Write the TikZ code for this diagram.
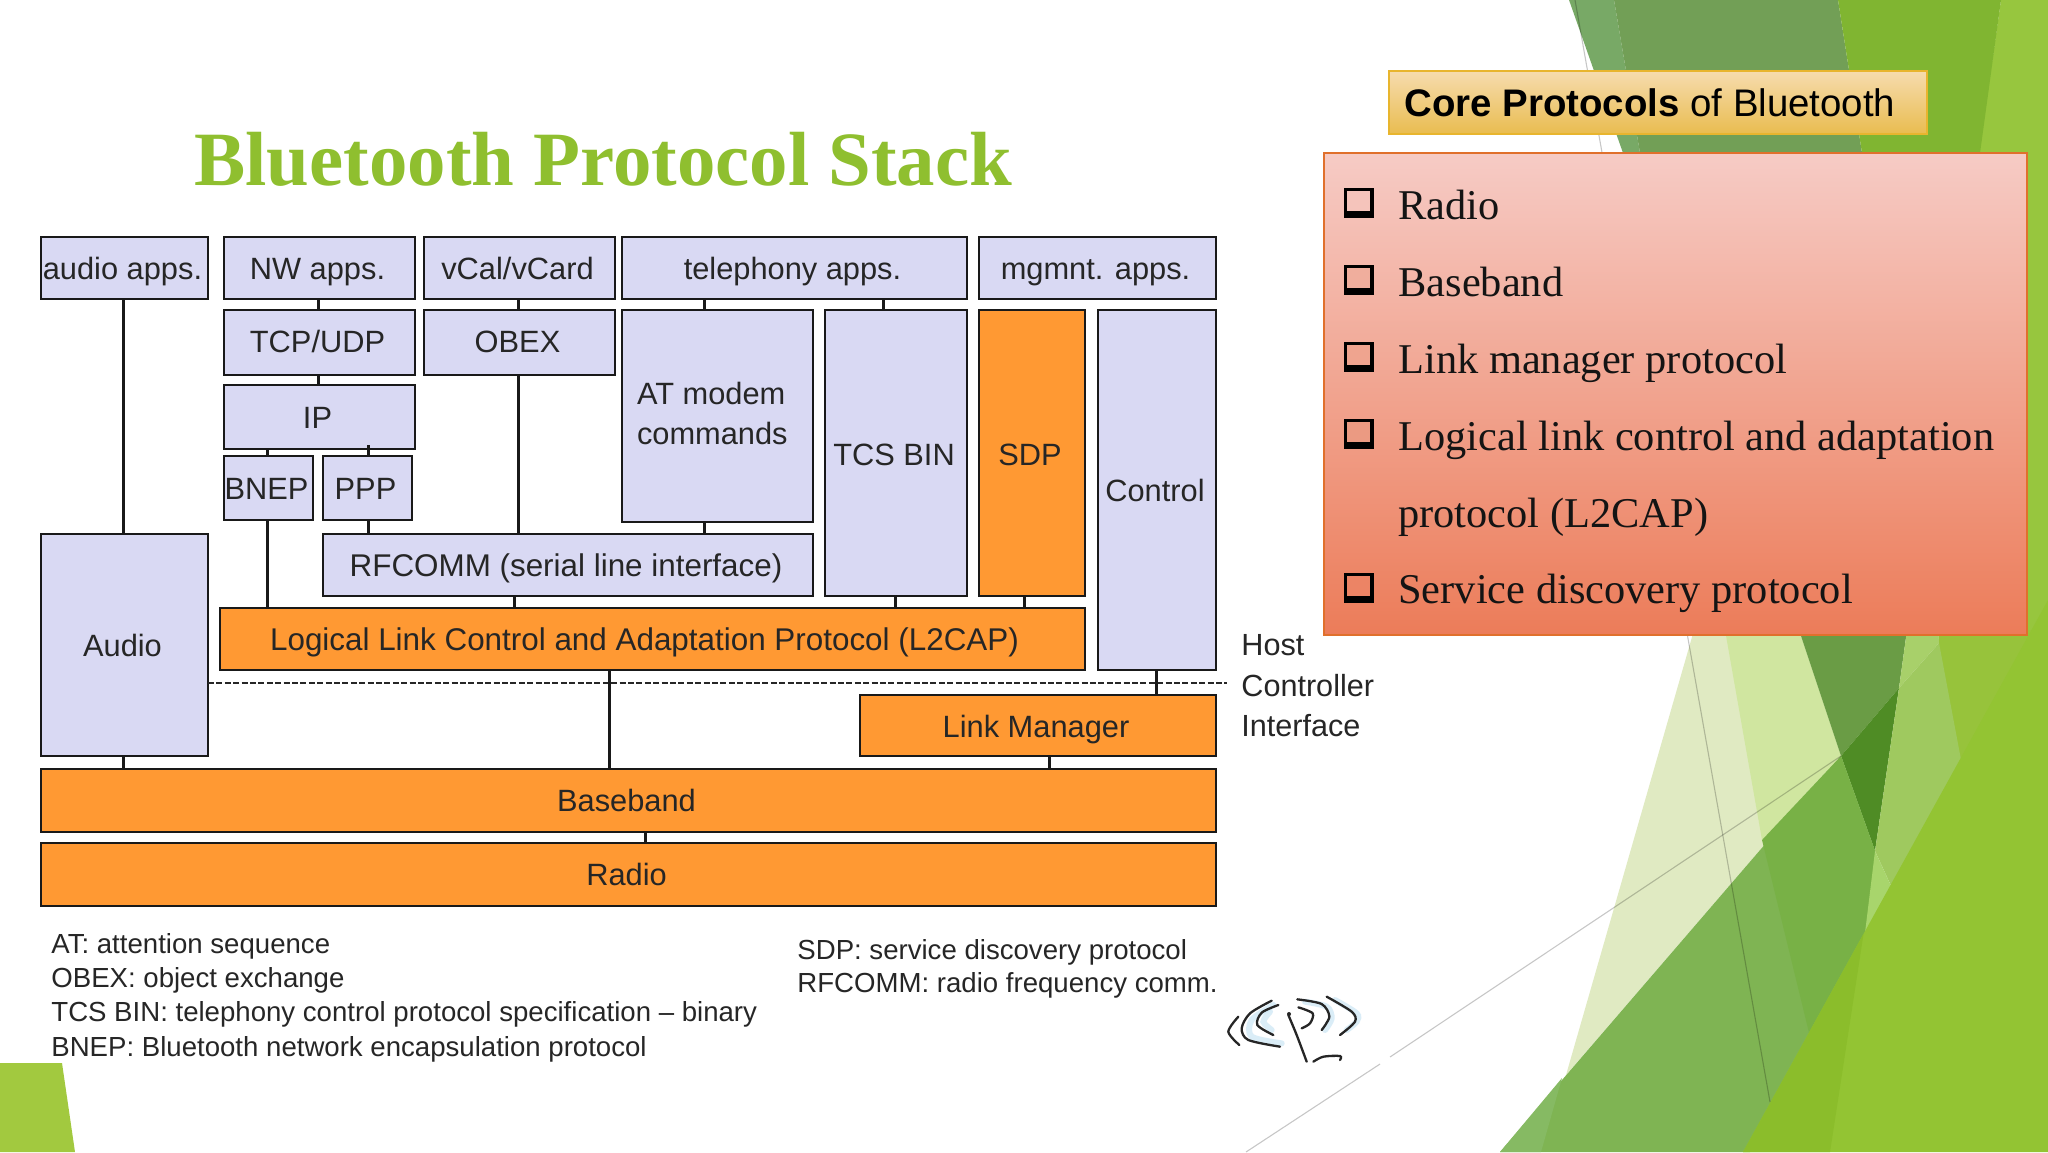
\documentclass[tikz,border=0pt]{standalone}
\usepackage{fontspec}
\setmainfont{Liberation Sans}
\newfontfamily\tnr{Liberation Serif}
\tikzset{
  facet/.style={draw=none},
  thinline/.style={draw=black,draw opacity=.22,line width=.55pt},
  stackbox/.style={draw=black!90,line width=1pt,inner sep=0pt,outer sep=0pt,
    font=\fontsize{15.4}{18}\selectfont,text=black!85,text height=11pt,text depth=0pt,
    execute at end node={\hspace*{2pt}}},
  bluebox/.style={stackbox,fill=boxblue},
  orangebox/.style={stackbox,fill=boxorange},
  conn/.style={draw=black!90,line width=1.5pt},
  legend/.style={anchor=base west,inner sep=0pt,font=\fontsize{13.8}{17}\selectfont,text=black!85},
  item/.style={anchor=base west,inner sep=0pt,font=\tnr\fontsize{21.2}{25}\selectfont,text=black!92},
  pics/bullet/.style={code={
    \fill[black] (0,0) rectangle (30,30);
    \fill[bulletfill] (2.5,2.5) rectangle (25.5,23);
  }},
  logoline/.style={draw=black!85,line width=1.15pt,line cap=round},
  glow/.style={draw=glowblue,line width=3pt,line cap=round,opacity=.7},
}
\definecolor{boxblue}{HTML}{D9D9F3}
\definecolor{boxorange}{HTML}{FF9933}
\definecolor{glowblue}{HTML}{CBE6F5}
\definecolor{bulletfill}{HTML}{F4C2B8}
\newcommand{\rbox}[7][]{%
  \node[#2,minimum width={(#5-#3)*0.5pt},minimum height={(#6-#4)*0.5pt},#1]
    at ({(#3+#5)/2},{(#4+#6)/2}) #7;}
\begin{document}
\begin{tikzpicture}[x=0.5pt,y=-0.5pt]
\useasboundingbox (0,0) rectangle (2048,1152);
\fill[white] (0,0) rectangle (2048,1152);
% ---- background facets
\fill[facet,fill={rgb,255:red,224;green,234;blue,194}] (1694,630) -- (1566,1075) -- (1841,756) -- (1799,630) -- cycle;
\fill[facet,fill={rgb,255:red,208;green,230;blue,160}] (1725,630) -- (1762,840) -- (1841,756) -- (1799,630) -- cycle;
\fill[facet,fill={rgb,255:red,106;green,156;blue,69}] (1799,630) -- (1907,630) -- (1899,688) -- (1841,756) -- cycle;
\fill[facet,fill={rgb,255:red,79;green,140;blue,37}] (1841,756) -- (1899,688) -- (1875,851) -- cycle;
\fill[facet,fill={rgb,255:red,127;green,180;blue,83}] (1841,756) -- (1875,851) -- (1870,945) -- (1750,1152) -- (1500,1152) -- cycle;
\fill[facet,fill={rgb,255:red,134;green,186;blue,99}] (1500,1152) -- (1562,1078) -- (1541,1152) -- cycle;
\fill[facet,fill={rgb,255:red,120;green,177;blue,70}] (1762,840) -- (1841,756) -- (1875,851) -- (1870,945) -- (1812,1045) -- cycle;
\fill[facet,fill={rgb,255:red,151;green,198;blue,62}] (2001,0) -- (2048,0) -- (2048,650) -- (1990,650) -- (1975,180) -- cycle;
\fill[facet,fill={rgb,255:red,151;green,195;blue,59}] (1938,630) -- (2048,630) -- (2048,700) -- (1970,790) -- (1945,790) -- cycle;
\fill[facet,fill={rgb,255:red,168;green,208;blue,106}] (1907,630) -- (1938,630) -- (1939,643) -- (1899,688) -- cycle;
\fill[facet,fill={rgb,255:red,159;green,201;blue,95}] (1899,688) -- (1939,643) -- (1962,765) -- (1892,888) -- (1875,851) -- cycle;
\fill[facet,fill={rgb,255:red,168;green,213;blue,108}] (1875,851) -- (1892,888) -- (1895,905) -- (1863.5,945) -- cycle;
\fill[facet,fill={rgb,255:red,147;green,196;blue,51}] (1743,1152) -- (2048,600) -- (2048,1152) -- cycle;
\fill[facet,fill={rgb,255:red,139;green,189;blue,43}] (1863.5,934) -- (1830,1152) -- (1743,1152) -- cycle;
\fill[facet,fill={rgb,255:red,120;green,169;blue,102}] (1569,0) -- (1614,0) -- (1640,153) -- (1623,153) -- cycle;
\fill[facet,fill={rgb,255:red,114;green,159;blue,86}] (1614,0) -- (1838,0) -- (1862,153) -- (1640,153) -- cycle;
\fill[facet,fill={rgb,255:red,128;green,181;blue,49}] (1838,0) -- (2001,0) -- (1980,153) -- (1862,153) -- cycle;
\fill[facet,fill={rgb,255:red,162;green,201;blue,63}] (0,1063) -- (62,1063) -- (75,1152) -- (0,1152) -- cycle;
% thin lines
\coordinate (la) at (1575,0); \coordinate (lb) at (1770,1102);
\coordinate (lc) at (1841,756); \coordinate (ld) at (1390,1057);
\coordinate (le) at (1380,1064); \coordinate (lf) at (1246,1152);
\draw[thinline] (la) -- (lb);
\draw[thinline] (lc) -- (ld);
\draw[thinline] (le) -- (lf);
% ---- title
\node[anchor=base west,inner sep=0pt,font=\tnr\bfseries\fontsize{38.4}{44}\selectfont,text={rgb,255:red,143;green,191;blue,47}] (title) at (194,185) {Bluetooth Protocol Stack};
% ---- stack boxes
\rbox{bluebox}{41}{237}{208}{299}{(aapps) {audio apps.}}
\rbox{bluebox}{224}{237}{415}{299}{(nw) {NW apps.}}
\rbox{bluebox}{424}{237}{615}{299}{(vcal) {vCal/vCard}}
\rbox{bluebox}{622}{237}{967}{299}{(tel) {telephony apps.}}
\rbox{bluebox}{979}{237}{1216}{299}{(mg) {mgmnt. apps.}}
\rbox[text height=10pt]{bluebox}{224}{310}{415}{375}{(tcp) {TCP/UDP}}
\rbox[text height=10pt]{bluebox}{424}{310}{615}{375}{(obex) {OBEX}}
\rbox{bluebox}{224}{385}{415}{449}{(ip) {IP}}
\rbox{bluebox}{224}{456}{313}{520}{(bnep) {BNEP}}
\rbox{bluebox}{323}{456}{412}{520}{(ppp) {PPP}}
\rbox[font=\fontsize{15.7}{18}\selectfont]{bluebox}{323}{534}{813}{596}{(rf) {RFCOMM (serial line interface)}}
\rbox{bluebox}{41}{534}{208}{756}{(audio) {Audio}}
\rbox[align=left,text height=,text depth=]{bluebox}{622}{310}{813}{522}{(at) {\raisebox{3pt}{\parbox{78.5pt}{\baselineskip=20pt AT modem\\commands\par\vspace{3pt}}}}}
\rbox[text height=12pt]{bluebox}{825}{310}{967}{596}{(tcs) {TCS BIN}}
\rbox[text height=12pt]{orangebox}{979}{310}{1085}{596}{(sdp) {SDP}}
\rbox{bluebox}{1098}{310}{1216}{670}{(ctrl) {Control}}
\rbox[font=\fontsize{15.7}{18}\selectfont,execute at end node={\hspace*{6pt}}]{orangebox}{220}{608}{1085}{670}{(l2) {Logical Link Control and Adaptation Protocol (L2CAP)}}
\rbox[text height=12pt]{orangebox}{860}{695}{1216}{756}{(lm) {Link Manager}}
\rbox{orangebox}{41}{769}{1216}{832}{(bb) {Baseband}}
\rbox{orangebox}{41}{843}{1216}{906}{(radio) {Radio}}
% dashed HCI line
\coordinate (hciend) at (1227,683);
\draw[draw=black!85,line width=.65pt,dash pattern=on 3pt off 1.2pt] (audio.east |- hciend) -- (hciend);
% ---- connectors
\draw[conn] (aapps.south -| 123,0) -- (audio.north -| 123,0);
\draw[conn] (nw.south -| 318,0) -- (tcp.north -| 318,0);
\draw[conn] (vcal.south -| 518,0) -- (obex.north -| 518,0);
\draw[conn] (tcp.south -| 318,0) -- (ip.north -| 318,0);
\draw[conn] (ip.south -| 267,0) -- (bnep.north -| 267,0);
\draw[conn] ([yshift=2pt]ip.south -| 368.6,0) -- (ppp.north -| 368.6,0);
\draw[conn] (bnep.south -| 267,0) -- (l2.north -| 267,0);
\draw[conn] (ppp.south -| 368.6,0) -- (rf.north -| 368.6,0);
\draw[conn] (obex.south -| 518,0) -- (rf.north -| 518,0);
\draw[conn] (rf.south -| 514,0) -- (l2.north -| 514,0);
\draw[conn] (tel.south -| 704.5,0) -- (at.north -| 704.5,0);
\draw[conn] (tel.south -| 883,0) -- (tcs.north -| 883,0);
\draw[conn] (at.south -| 704.5,0) -- (rf.north -| 704.5,0);
\draw[conn] (tcs.south -| 895,0) -- (l2.north -| 895,0);
\draw[conn] (sdp.south -| 1024.5,0) -- (l2.north -| 1024.5,0);
\draw[conn] (ctrl.south -| 1156,0) -- (lm.north -| 1156,0);
\draw[conn] (l2.south -| 609,0) -- (bb.north -| 609,0);
\draw[conn] (lm.south -| 1049,0) -- (bb.north -| 1049,0);
\draw[conn] (audio.south -| 123,0) -- (bb.north -| 123,0);
\draw[conn] (bb.south -| 645,0) -- (radio.north -| 645,0);
% ---- HCI label
\node[anchor=north west,inner sep=0pt,align=left,font=\fontsize{15.3}{20.2}\selectfont,text=black!85] (hci) at (1241,634.5) {Host\\Controller\\Interface};
% ---- legends
\node[legend] (l1) at (51,953) {AT: attention sequence};
\node[legend] (l2t) at (51,987) {OBEX: object exchange};
\node[legend] (l3) at (51,1021) {TCS BIN: telephony control protocol specification -- binary};
\node[legend] (l4) at (51,1056) {BNEP: Bluetooth network encapsulation protocol};
\node[legend] (l5) at (797,959) {SDP: service discovery protocol};
\node[legend] (l6) at (797,992.5) {RFCOMM: radio frequency comm.};
% ---- logo
\begin{scope}[shift={(1210,980)},scale=1/3]
\draw[glow] plot[smooth] coordinates {(215,190) (125,170) (125,120) (190,75)};
\draw[glow] plot[smooth] coordinates {(185,150) (160,125) (180,95)};
\draw[glow] plot[smooth] coordinates {(285,65) (350,80) (365,115) (345,150)};
\draw[glow] plot[smooth] coordinates {(375,60) (440,100) (440,125) (410,150)};
\draw[logoline] plot[smooth] coordinates {(88,195) (55,155) (85,110)};
\draw[logoline] plot[smooth] coordinates {(210,200) (115,180) (95,145) (120,100) (185,62)};
\draw[logoline] plot[smooth] coordinates {(190,165) (142,135) (155,98) (205,75)};
\draw[logoline] plot[smooth] coordinates {(262,58) (335,72) (358,110) (335,150)};
\draw[logoline] plot[smooth] coordinates {(265,82) (308,100) (300,130) (275,145)};
\draw[logoline] plot[smooth] coordinates {(350,50) (425,95) (435,125) (390,165)};
\draw[logoline] plot[smooth] coordinates {(235,105) (260,165) (290,245)};
\draw[logoline] plot[smooth] coordinates {(310,245) (340,230) (390,228) (390,240)};
\fill[black!85] (237,102) circle (6);
\end{scope}
% ---- core protocols
\node[shade,top color={rgb,255:red,246;green,220;blue,174},bottom color={rgb,255:red,233;green,188;blue,80},draw={rgb,255:red,232;green,181;blue,46},line width=1pt,inner sep=0pt,minimum width=269pt,minimum height=31.5pt] (core) at (1658,102.5) {};
\node[anchor=base west,inner sep=0pt,font=\fontsize{19.2}{23}\selectfont,text=black] (coret) at (1404,116) {\textbf{Core Protocols} of Bluetooth};
\node[shade,top color={rgb,255:red,246;green,203;blue,197},bottom color={rgb,255:red,236;green,124;blue,89},draw={rgb,255:red,224;green,112;blue,44},line width=1pt,inner sep=0pt,minimum width=351.5pt,minimum height=241pt] (list) at (1675.5,394) {};
\foreach \yy/\cc in {188/F5C4BB,265/F0AE9D,342/EFA48F,419/EB9A82,573/EC8465}{
  \definecolor{bulletfill}{HTML}{\cc}
  \pic at (1344,\yy) {bullet};
}
\node[item] (i1) at (1398,219) {Radio};
\node[item] (i2) at (1398,296) {Baseband};
\node[item] (i3) at (1398,373) {Link manager protocol};
\node[item] (i4) at (1398,450) {Logical link control and adaptation};
\node[item] (i5) at (1398,527) {protocol (L2CAP)};
\node[item] (i6) at (1398,603) {Service discovery protocol};
\end{tikzpicture}
\end{document}
